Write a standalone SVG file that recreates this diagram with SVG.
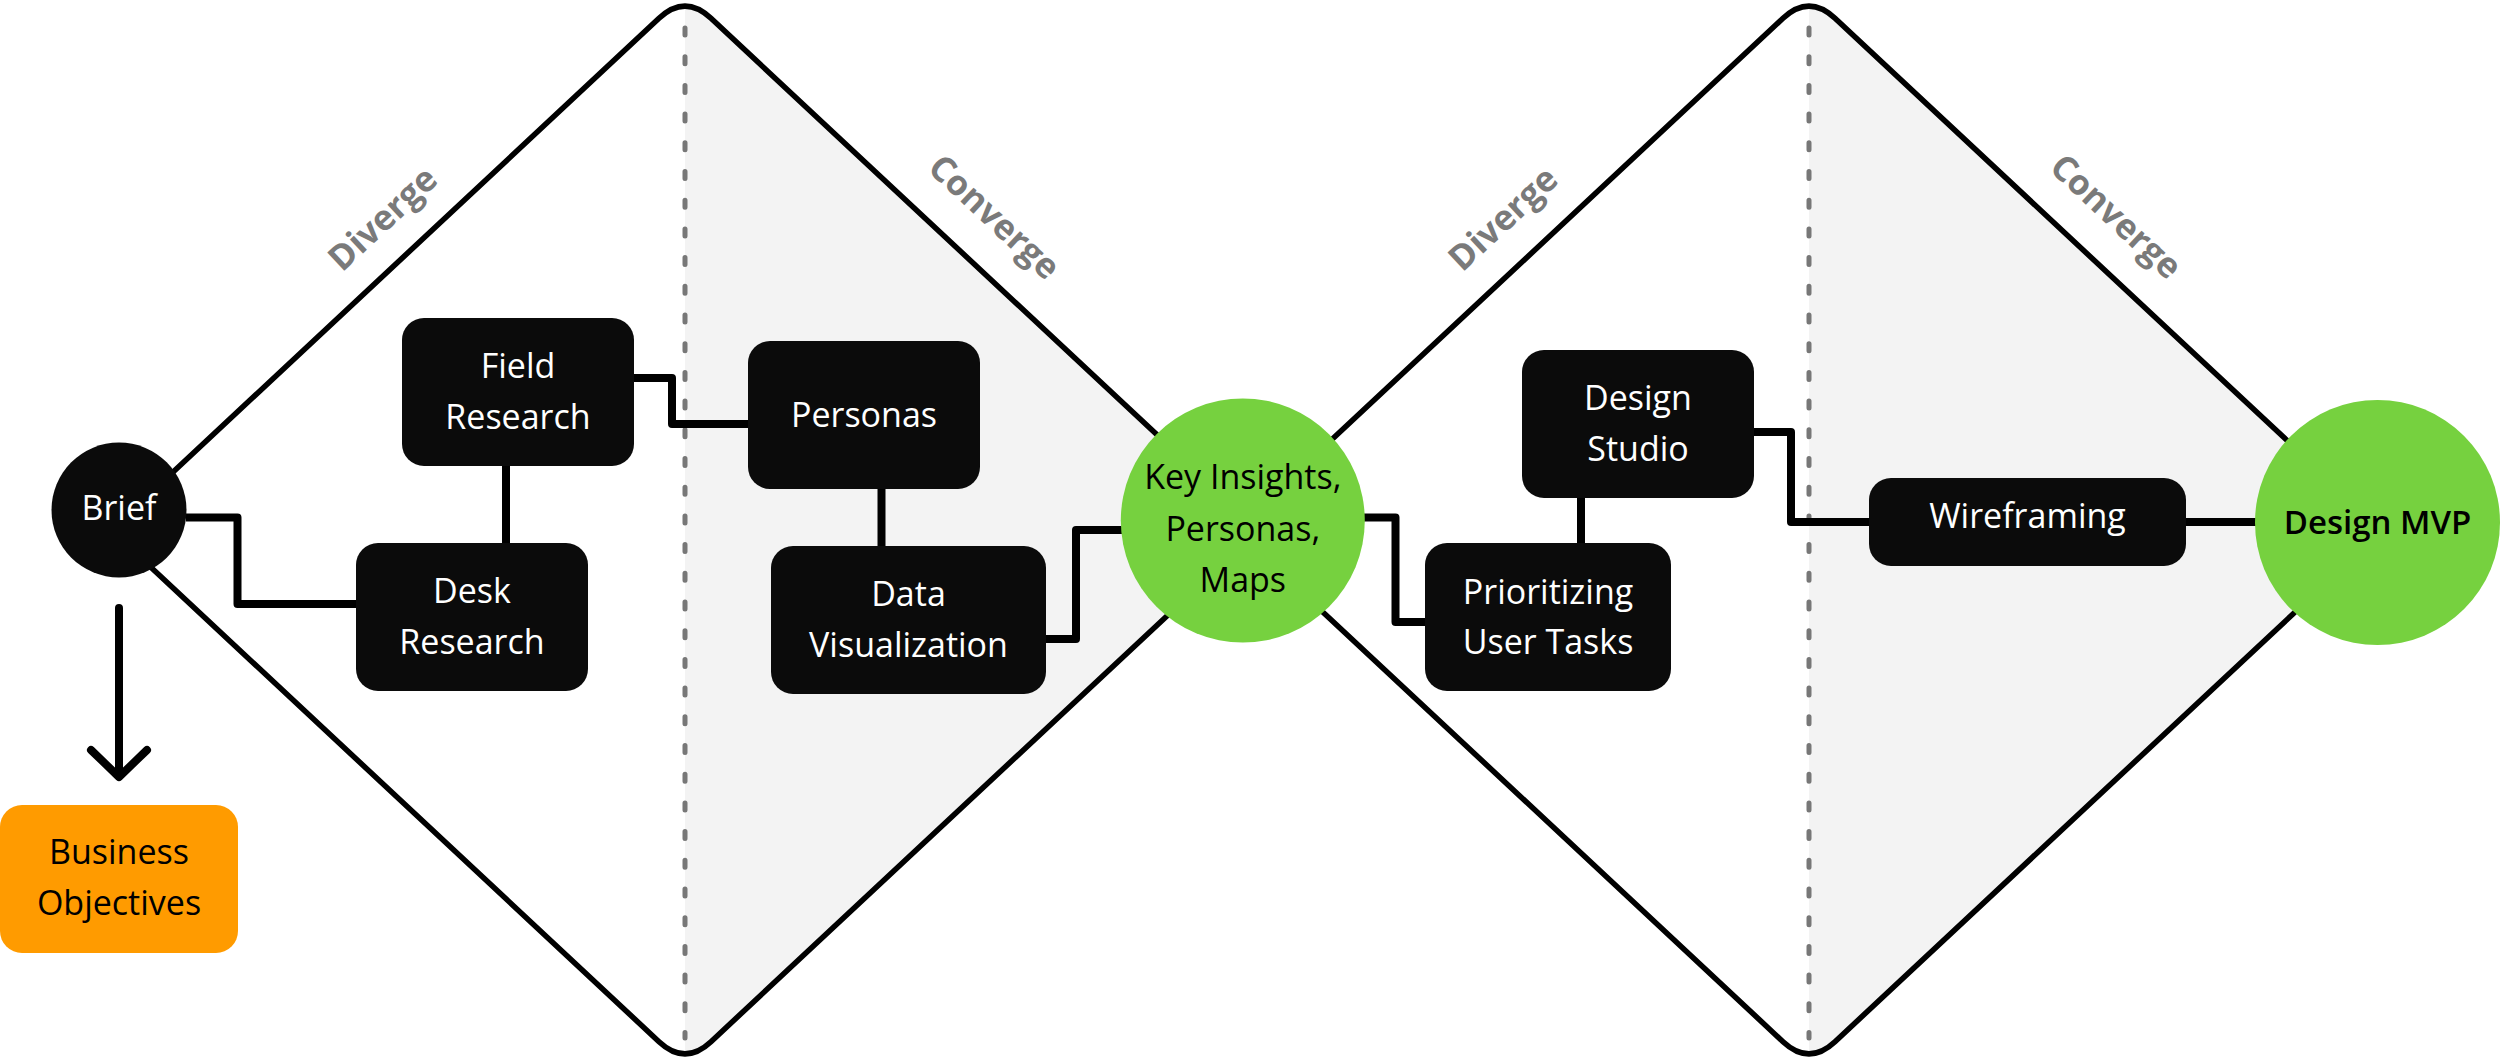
<svg xmlns="http://www.w3.org/2000/svg" width="2500" height="1061" viewBox="0 0 2500 1061">
<style>
.t{font-family:"Open Sans","Noto Sans","Liberation Sans",sans-serif;font-size:34px;font-weight:500;text-anchor:middle}
.w{fill:#ffffff}
.k{fill:#000000}
.box{fill:#0b0b0b}
.green{fill:#76d13f}
.mvp{font-weight:600;font-size:33px}
.phase{font-family:"Open Sans","Noto Sans","Liberation Sans",sans-serif;font-size:35px;font-weight:700;fill:#7a7a7a;text-anchor:middle}
.edge{fill:none;stroke:#000000;stroke-width:5.5;stroke-linejoin:round}
.dash{fill:none;stroke:#777777;stroke-width:5;stroke-dasharray:7 21.7;stroke-linecap:round}
.conn{fill:none;stroke:#000000;stroke-width:8;stroke-linejoin:round}
</style>
<defs>
<path id="diamond" d="M 111 530 L 659 18.3 Q 685 -6 711 18.3 L 1259 530 L 711 1041.7 Q 685 1066 659 1041.7 Z"/>
<clipPath id="righthalf"><rect x="685" y="-20" width="640" height="1110"/></clipPath>
</defs>
<rect x="0" y="0" width="2500" height="1061" fill="#ffffff"/>

<g id="diamonds">
<use href="#diamond" fill="#f3f3f3" clip-path="url(#righthalf)"/>
<use href="#diamond" fill="#f3f3f3" clip-path="url(#righthalf)" transform="translate(1124,0)"/>
<line class="dash" x1="685" y1="28" x2="685" y2="1038"/>
<line class="dash" x1="1809" y1="28" x2="1809" y2="1038"/>
<use href="#diamond" class="edge"/>
<use href="#diamond" class="edge" transform="translate(1124,0)"/>
</g>

<g id="phase-labels">
<text class="phase" transform="translate(382.6,218.7) rotate(-43)" y="12">Diverge</text>
<text class="phase" transform="translate(994.4,217) rotate(43)" y="12">Converge</text>
<text class="phase" transform="translate(1503,218.7) rotate(-43)" y="12">Diverge</text>
<text class="phase" transform="translate(2116,216.5) rotate(43)" y="12">Converge</text>
</g>

<g id="connectors">
<path class="conn" d="M 186 517.5 H 237.5 V 604 H 357"/>
<path class="conn" d="M 506 465 V 544"/>
<path class="conn" d="M 633 378 H 672 V 424 H 749"/>
<path class="conn" d="M 881.5 488 V 547"/>
<path class="conn" d="M 1045 639 H 1076 V 530 H 1122"/>
<path class="conn" d="M 1363 517.5 H 1395.5 V 622 H 1426"/>
<path class="conn" d="M 1581 497 V 544"/>
<path class="conn" d="M 1753 432 H 1791 V 522 H 1870"/>
<path class="conn" d="M 2185 522 H 2257"/>
<path class="conn" stroke-linecap="round" d="M 119 608 V 776 M 91 750 L 119 777 L 147 750"/>
</g>

<g id="brief">
<circle class="box" cx="119" cy="510" r="67.5"/>
<text class="t w" x="119" y="519.5">Brief</text>
</g>
<g id="business-objectives">
<rect x="0" y="805" width="238" height="148" rx="22" fill="#ff9b00"/>
<text class="t k" x="119" y="864">Business</text>
<text class="t k" x="119" y="915">Objectives</text>
</g>
<g id="field-research">
<rect class="box" x="402" y="318" width="232" height="148" rx="22"/>
<text class="t w" x="518" y="378">Field</text>
<text class="t w" x="518" y="428.5">Research</text>
</g>
<g id="desk-research">
<rect class="box" x="356" y="543" width="232" height="148" rx="22"/>
<text class="t w" x="472" y="603">Desk</text>
<text class="t w" x="472" y="654">Research</text>
</g>
<g id="personas">
<rect class="box" x="748" y="341" width="232" height="148" rx="22"/>
<text class="t w" x="864" y="427">Personas</text>
</g>
<g id="data-visualization">
<rect class="box" x="771" y="546" width="275" height="148" rx="22"/>
<text class="t w" x="908.5" y="605.5">Data</text>
<text class="t w" x="908.5" y="657">Visualization</text>
</g>
<g id="key-insights">
<circle class="green" cx="1242.8" cy="520.5" r="122"/>
<text class="t k" x="1242.8" y="489">Key Insights,</text>
<text class="t k" x="1242.8" y="541">Personas,</text>
<text class="t k" x="1242.8" y="592">Maps</text>
</g>
<g id="prioritizing-user-tasks">
<rect class="box" x="1425" y="543" width="246" height="148" rx="22"/>
<text class="t w" x="1548" y="603.5">Prioritizing</text>
<text class="t w" x="1548" y="654">User Tasks</text>
</g>
<g id="design-studio">
<rect class="box" x="1522" y="350" width="232" height="148" rx="22"/>
<text class="t w" x="1638" y="409.5">Design</text>
<text class="t w" x="1638" y="460.5">Studio</text>
</g>
<g id="wireframing">
<rect class="box" x="1869" y="478" width="317" height="88" rx="22"/>
<text class="t w" x="2027.5" y="527.5">Wireframing</text>
</g>
<g id="design-mvp">
<circle class="green" cx="2377.5" cy="522.5" r="122.5"/>
<text class="t k mvp" x="2377.5" y="534">Design MVP</text>
</g>
</svg>
